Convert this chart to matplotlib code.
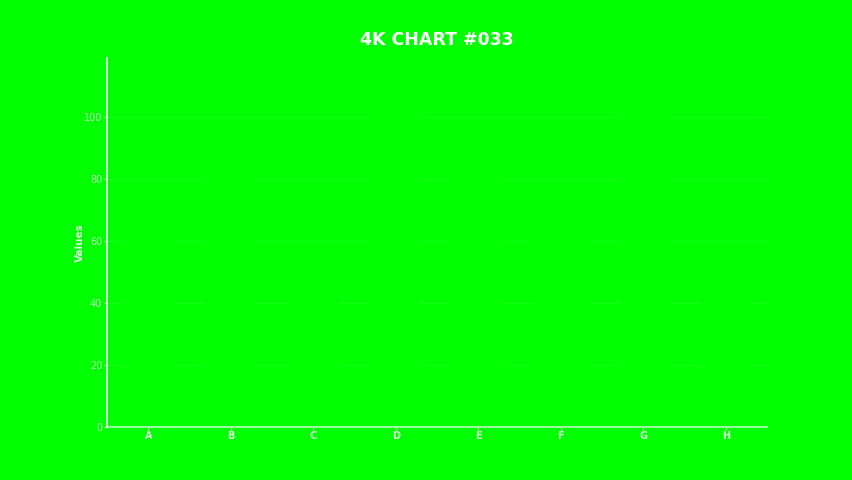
import matplotlib
matplotlib.use("Agg")
import matplotlib.pyplot as plt

categories = ["A", "B", "C", "D", "E", "F", "G", "H"]
# Bars are drawn in the same chroma green as the background, so they are invisible
values = [72, 95, 58, 113, 81, 66, 104, 49]
yticks = [0, 20, 40, 60, 80, 100]

GREEN = "#00ff00"

fig = plt.figure(figsize=(8.52, 4.8), dpi=100, facecolor=GREEN)
ax = fig.add_axes([107/852, 1 - 427/480, (767-107)/852, (427-58)/480])
ax.set_facecolor(GREEN)

ax.bar(range(len(categories)), values, width=0.6, color=GREEN, zorder=1)
ax.set_xlim(-0.5, len(categories) - 0.5)
ax.set_ylim(0, 119)

ax.set_yticks(yticks)
ax.set_xticks(range(len(categories)))
ax.set_xticklabels(categories, fontweight="bold")
ax.tick_params(axis="both", colors=(1, 1, 1, 0.7), labelsize=7, length=2.5, pad=1)
ax.tick_params(axis="x", labelcolor=(1, 1, 1, 0.85), pad=0.5)
ax.grid(axis="y", color="white", alpha=0.08, linewidth=0.8, zorder=0)
ax.set_axisbelow(True)

for s in ["top", "right"]:
    ax.spines[s].set_visible(False)
ax.spines["left"].set_color("white")
ax.spines["bottom"].set_color((1, 1, 1, 0.6))
ax.spines["left"].set_linewidth(1.2)
ax.spines["bottom"].set_linewidth(1.5)

ax.set_ylabel("Values", color="white", fontweight="bold", fontsize=7.5, labelpad=-1, alpha=0.85)
fig.text(437/852, 1 - 40/480, "4K CHART #033", ha="center", va="center",
         color="white", fontweight="bold", fontsize=12.5)

fig.savefig("out.png", dpi=100, facecolor=GREEN)
